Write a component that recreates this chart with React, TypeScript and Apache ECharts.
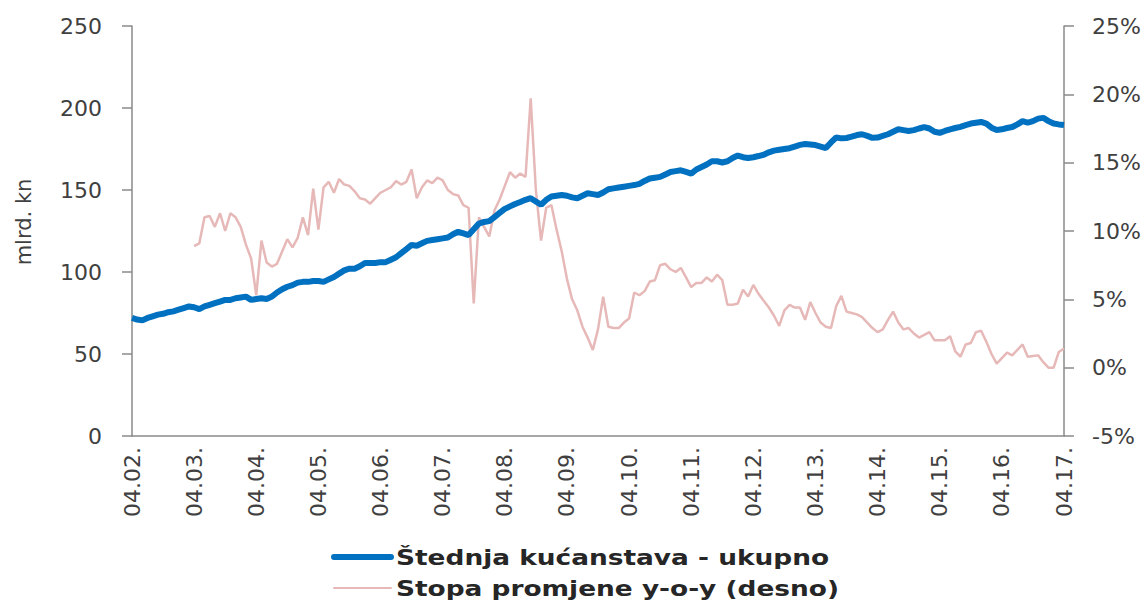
import React, { useEffect, useRef } from "react";
import * as echarts from "echarts";

// Monthly data: April 2002 – April 2017
const startYear = 2002;
const startMonth = 4;
const monthCount = 181;

const savingsTotal: number[] = [
  72, 71, 70.5, 72, 73, 74, 74.5, 75.5, 76, 77, 78, 79,
  78.5, 77.4, 79, 80, 81, 82, 83, 83, 84, 84.5, 85, 83,
  83.5, 84, 83.5, 85, 87.5, 89.5, 91, 92, 93.5, 94, 94, 94.5,
  94.5, 94, 95.5, 97, 99, 101, 102, 102, 103.5, 105.5, 105.5, 105.5,
  106, 106, 107.5, 109, 111.5, 114, 116.5, 116, 117.5, 119, 119.5, 120,
  120.5, 121, 123, 124.5, 123.5, 122.5, 126, 129.5, 130.5, 131, 133.5, 136,
  138.5, 140, 141.5, 142.7, 144, 145, 143, 141, 144, 146, 146.5, 147,
  146.5, 145.5, 145, 146.5, 148, 147.5, 147, 148.5, 150.5, 151, 151.5, 152,
  152.5, 153, 153.7, 155.5, 157, 157.5, 158, 159.5, 161, 161.5, 162, 161,
  160, 162.5, 164, 165.5, 167.5, 167.5, 166.8, 167.5, 169.5, 171, 170, 169.5,
  170, 170.7, 171.5, 173, 174, 174.5, 175, 175.5, 176.5, 177.5, 178, 177.7,
  177.4, 176.5, 175.6, 179, 182, 181.5, 181.7, 182.5, 183.5, 184, 183, 181.8,
  182, 183, 184, 185.5, 187, 186.5, 186, 186.5, 187.5, 188.4, 187.5, 185.5,
  184.8, 186, 187, 187.8, 188.5, 189.6, 190.5, 191, 191.5, 190.5, 188, 186.6,
  187, 187.8, 188.4, 190, 192, 191, 192, 193.5, 194, 192, 190.5, 190,
  189.6,
];

const yoyRate: (number | null)[] = [
  null, null, null, null, null, null, null, null, null, null, null, null,
  8.9, 9.1, 11.0, 11.1, 10.3, 11.3, 10.0, 11.3, 11.0, 10.3, 9.0, 8.0,
  5.3, 9.3, 7.7, 7.4, 7.6, 8.5, 9.4, 8.8, 9.5, 11.0, 9.7, 13.1,
  10.1, 13.2, 13.6, 12.8, 13.8, 13.4, 13.3, 12.9, 12.4, 12.3, 12.0, 12.4,
  12.8, 13.0, 13.2, 13.65, 13.4, 13.6, 14.5, 12.4, 13.2, 13.7, 13.5, 13.9,
  13.7, 13.0, 12.7, 12.6, 11.9, 11.7, 4.7, 11.0, 10.3, 9.6, 11.5, 12.3,
  13.3, 14.3, 13.9, 14.2, 13.95, 19.7, 13.0, 9.3, 11.7, 11.9, 10.1, 8.5,
  6.5, 5.0, 4.2, 3.0, 2.2, 1.3, 2.8, 5.2, 3.0, 2.9, 2.9, 3.3,
  3.6, 5.5, 5.3, 5.6, 6.3, 6.4, 7.5, 7.6, 7.2, 7.0, 7.3, 6.6,
  5.9, 6.2, 6.2, 6.6, 6.3, 6.8, 6.4, 4.6, 4.6, 4.7, 5.7, 5.2,
  6.05, 5.4, 4.9, 4.4, 3.8, 3.05, 4.2, 4.6, 4.4, 4.4, 3.5, 4.8,
  4.0, 3.3, 3.0, 2.9, 4.5, 5.25, 4.1, 4.0, 3.9, 3.7, 3.3, 2.9,
  2.6, 2.8, 3.5, 4.1, 3.3, 2.8, 2.9, 2.5, 2.2, 2.4, 2.6, 2.0,
  2.0, 2.0, 2.3, 1.2, 0.8, 1.7, 1.8, 2.6, 2.7, 1.9, 1.0, 0.3,
  0.7, 1.1, 0.9, 1.3, 1.7, 0.8, 0.85, 0.9, 0.4, 0.0, 0.0, 1.15,
  1.4,
];

const categories: string[] = [];
for (let i = 0; i < monthCount; i++) {
  const m = ((startMonth - 1 + i) % 12) + 1;
  const y = startYear + Math.floor((startMonth - 1 + i) / 12);
  categories.push(String(m).padStart(2, "0") + "." + String(y % 100).padStart(2, "0") + ".");
}

const seriesNames = ["Štednja kućanstava - ukupno", "Stopa promjene y-o-y (desno)"];
const leftAxisName = "mlrd. kn";

const FONT = "DejaVu Sans";
const AXIS_GRAY = "#8a8a8a";
const LABEL_COLOR = "#404040";
const BLUE = "#0070C0";
const PINK = "#E6B9B8";

export default function App() {
  const ref = useRef<HTMLDivElement>(null);

  useEffect(() => {
    if (!ref.current) return;
    const chart = echarts.init(ref.current, undefined, { renderer: "svg" });
    const legendRows = [
      { name: seriesNames[0], color: BLUE, width: 6, y: 557 },
      { name: seriesNames[1], color: PINK, width: 2, y: 588 },
    ];
    const legendGraphics: any[] = [];
    legendRows.forEach((r) => {
      legendGraphics.push({
        type: "line",
        shape: { x1: 334, y1: r.y, x2: 391, y2: r.y },
        style: { stroke: r.color, lineWidth: r.width, lineCap: "round" },
      });
      legendGraphics.push({
        type: "text",
        x: 396,
        y: r.y,
        scaleX: 1.2,
        style: {
          text: r.name,
          font: `bold 22px "${FONT}"`,
          fill: "#262626",
          align: "left",
          verticalAlign: "middle",
        },
      });
    });

    chart.setOption({
      animation: false,
      backgroundColor: "#ffffff",
      textStyle: { fontFamily: FONT },
      grid: { left: 132, right: 84, top: 26, bottom: 165, containLabel: false },
      graphic: [
        {
          type: "text",
          x: 24,
          y: 222,
          rotation: Math.PI / 2,
          style: {
            text: leftAxisName,
            font: `21px "${FONT}"`,
            fill: LABEL_COLOR,
            align: "center",
            verticalAlign: "middle",
          },
        },
        ...legendGraphics,
      ],
      xAxis: {
        type: "category",
        data: categories,
        boundaryGap: false,
        axisLine: { show: true, lineStyle: { color: AXIS_GRAY, width: 1.5 } },
        axisTick: { show: false },
        axisLabel: {
          interval: 11,
          rotate: 90,
          margin: 11,
          fontSize: 22,
          fontFamily: FONT,
          color: LABEL_COLOR,
        },
        splitLine: { show: false },
      },
      yAxis: [
        {
          type: "value",
          min: 0,
          max: 250,
          interval: 50,
          position: "left",
          axisLine: { show: true, lineStyle: { color: AXIS_GRAY, width: 1.5 } },
          axisTick: { show: true, length: 10, lineStyle: { color: AXIS_GRAY, width: 1.5 } },
          axisLabel: { margin: 30, fontSize: 22, fontFamily: FONT, color: LABEL_COLOR },
          splitLine: { show: false },
        },
        {
          type: "value",
          min: -5,
          max: 25,
          interval: 5,
          position: "right",
          axisLine: { show: true, lineStyle: { color: AXIS_GRAY, width: 1.5 } },
          axisTick: { show: true, length: 10, lineStyle: { color: AXIS_GRAY, width: 1.5 } },
          axisLabel: { margin: 28, fontSize: 22, fontFamily: FONT, color: LABEL_COLOR, formatter: "{value}%" },
          splitLine: { show: false },
        },
      ],
      series: [
        {
          name: seriesNames[1],
          type: "line",
          yAxisIndex: 1,
          data: yoyRate,
          showSymbol: false,
          symbol: "none",
          connectNulls: false,
          lineStyle: { color: PINK, width: 2.5 },
          itemStyle: { color: PINK },
          z: 2,
        },
        {
          name: seriesNames[0],
          type: "line",
          yAxisIndex: 0,
          data: savingsTotal,
          showSymbol: false,
          symbol: "none",
          lineStyle: { color: BLUE, width: 6 },
          itemStyle: { color: BLUE },
          z: 3,
        },
      ],
    });
    return () => chart.dispose();
  }, []);

  return (
    <div
      ref={ref}
      style={{ position: "fixed", left: 0, top: 0, width: 1148, height: 601, background: "#fff" }}
    />
  );
}
